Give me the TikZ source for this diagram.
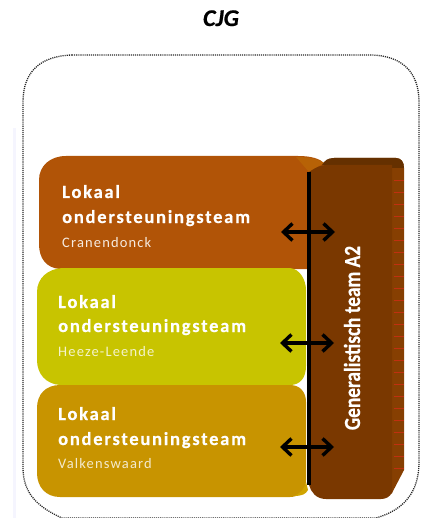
\documentclass[tikz,border=0pt]{standalone}
\usepackage{fontspec}
\setmainfont{Carlito}
\usetikzlibrary{arrows.meta}
\definecolor{teamorange}{HTML}{B15407}
\definecolor{teamyellow}{HTML}{C8C400}
\definecolor{teamgold}{HTML}{C89400}
\definecolor{brownface}{HTML}{7A3800}
\definecolor{browntop}{HTML}{653000}
\definecolor{brownside}{HTML}{863F02}
\definecolor{tick}{HTML}{C03010}
\tikzset{
  x=1pt,y=-1pt,
  head/.style={font=\bfseries\fontsize{18.5}{18.5}\selectfont\addfontfeature{LetterSpace=9.5,FakeBold=0.5},text=white,anchor=base west,inner sep=0pt},
  place/.style={font=\fontsize{14.5}{14.5}\selectfont\addfontfeature{LetterSpace=8},anchor=base west,inner sep=0pt},
  link/.style={{Straight Barb[length=9pt,width=17pt,line width=3.4pt]}-{Straight Barb[length=9pt,width=17pt,line width=3.4pt]},line width=3.2pt,black},
}
\begin{document}
\begin{tikzpicture}
\useasboundingbox (0,0) rectangle (427,518);
\clip (0,0) rectangle (427,518);
% faint page edge
\fill[black!5!blue!4!white] (13,128) rectangle (16,518);
\node[font=\bfseries\itshape\fontsize{24}{24}\selectfont\addfontfeature{FakeBold=0.6},anchor=base,inner sep=0pt] (title) at (221,26) {CJG};
% dotted frame
\draw[black!85,line width=1.3pt,dash pattern=on 1.1pt off 1pt] (72,55) -- (372,55) .. controls (402,56) and (419,72) .. (419,102) -- (419,462)
  .. controls (419,492) and (404,510) .. (376,518) -- (62,518) .. controls (40,508) and (23,495) .. (23,468) -- (23,102) .. controls (23,72) and (40,56) .. (72,55) -- cycle;
% orange box
\fill[teamorange] (66,156) -- (298,156) .. controls (312,156) and (320,159) .. (324,163) -- (324,269) -- (60,269) .. controls (46,268) and (39,258) .. (39,244) -- (39,180) .. controls (39,166) and (50,156) .. (66,156) -- cycle;
\fill[teamorange!92!yellow] (296,157) .. controls (310,157) and (318,159) .. (324,163) -- (309,172) -- cycle;
% brown team block: side, top, front
\fill[brownside] (334,158) -- (396,158) .. controls (401,158) and (404,162) .. (404,168) -- (404,470) -- (392,493) -- (340,493) -- cycle;
\fill[browntop] (322,165) .. controls (325,160) and (328,158) .. (334,158) -- (396,158) .. controls (401,158) and (404,162) .. (404,168) -- (392,168) -- cycle;
\fill[brownface] (309,172) .. controls (315,168) and (320,165) .. (326,165) -- (392,165) -- (392,493) .. controls (389,497) and (386,499) .. (381,499) -- (326,499) .. controls (316,499) and (311,492) .. (309,485) -- cycle;
\foreach \ty in {180,192,...,468} \draw[tick,line width=.8pt] (394,\ty) -- (404,\ty);
% yellow and gold boxes
\fill[teamyellow] (62,268) -- (290,268) .. controls (300,269) and (306,280) .. (306,290) -- (306,366) .. controls (306,378) and (300,385) .. (290,385) -- (60,385) .. controls (46,384) and (37,374) .. (37,360) -- (37,292) .. controls (37,278) and (48,269) .. (62,268) -- cycle;
\fill[teamgold] (60,385) -- (290,385) .. controls (300,385) and (306,392) .. (306,402) -- (306,480) .. controls (306,490) and (300,497) .. (290,497) -- (60,497) .. controls (46,497) and (37,487) .. (37,473) -- (37,408) .. controls (37,394) and (46,385) .. (60,385) -- cycle;
\fill[teamgold!85!yellow] (294,496) .. controls (301,493) and (305,488) .. (306,482) -- (308,490) .. controls (306,494) and (302,496) .. (294,496) -- cycle;
% labels
\node[head] (h1) at (62,198) {Lokaal};
\node[head] (o1) at (62,223) {ondersteuningsteam};
\node[place,text=white!88!teamorange] (p1) at (62,247) {Cranendonck};
\node[head] (h2) at (58,308) {Lokaal};
\node[head] (o2) at (58,332) {ondersteuningsteam};
\node[place,text=white!80!teamyellow] (p2) at (58,356) {Heeze-Leende};
\node[head] (h3) at (58,420) {Lokaal};
\node[head] (o3) at (58,445) {ondersteuningsteam};
\node[place,text=white!80!teamgold] (p3) at (58,468) {Valkenswaard};
\node[font=\bfseries\fontsize{23}{23}\selectfont\addfontfeature{FakeBold=0.5},text=white,rotate=90,inner sep=0pt,xscale=.84] (gen) at (352,338) {Generalistisch team A2};
% bar and links
\draw[black,line width=3.6pt] (309,172) -- (309,485);
\coordinate (a1l) at (281,232); \coordinate (a1r) at (335,232);
\coordinate (a2l) at (280,343); \coordinate (a2r) at (334,343);
\coordinate (a3l) at (280,447); \coordinate (a3r) at (334,447);
\draw[link] (a1l) -- (a1r);
\draw[link] (a2l) -- (a2r);
\draw[link] (a3l) -- (a3r);
\end{tikzpicture}
\end{document}
